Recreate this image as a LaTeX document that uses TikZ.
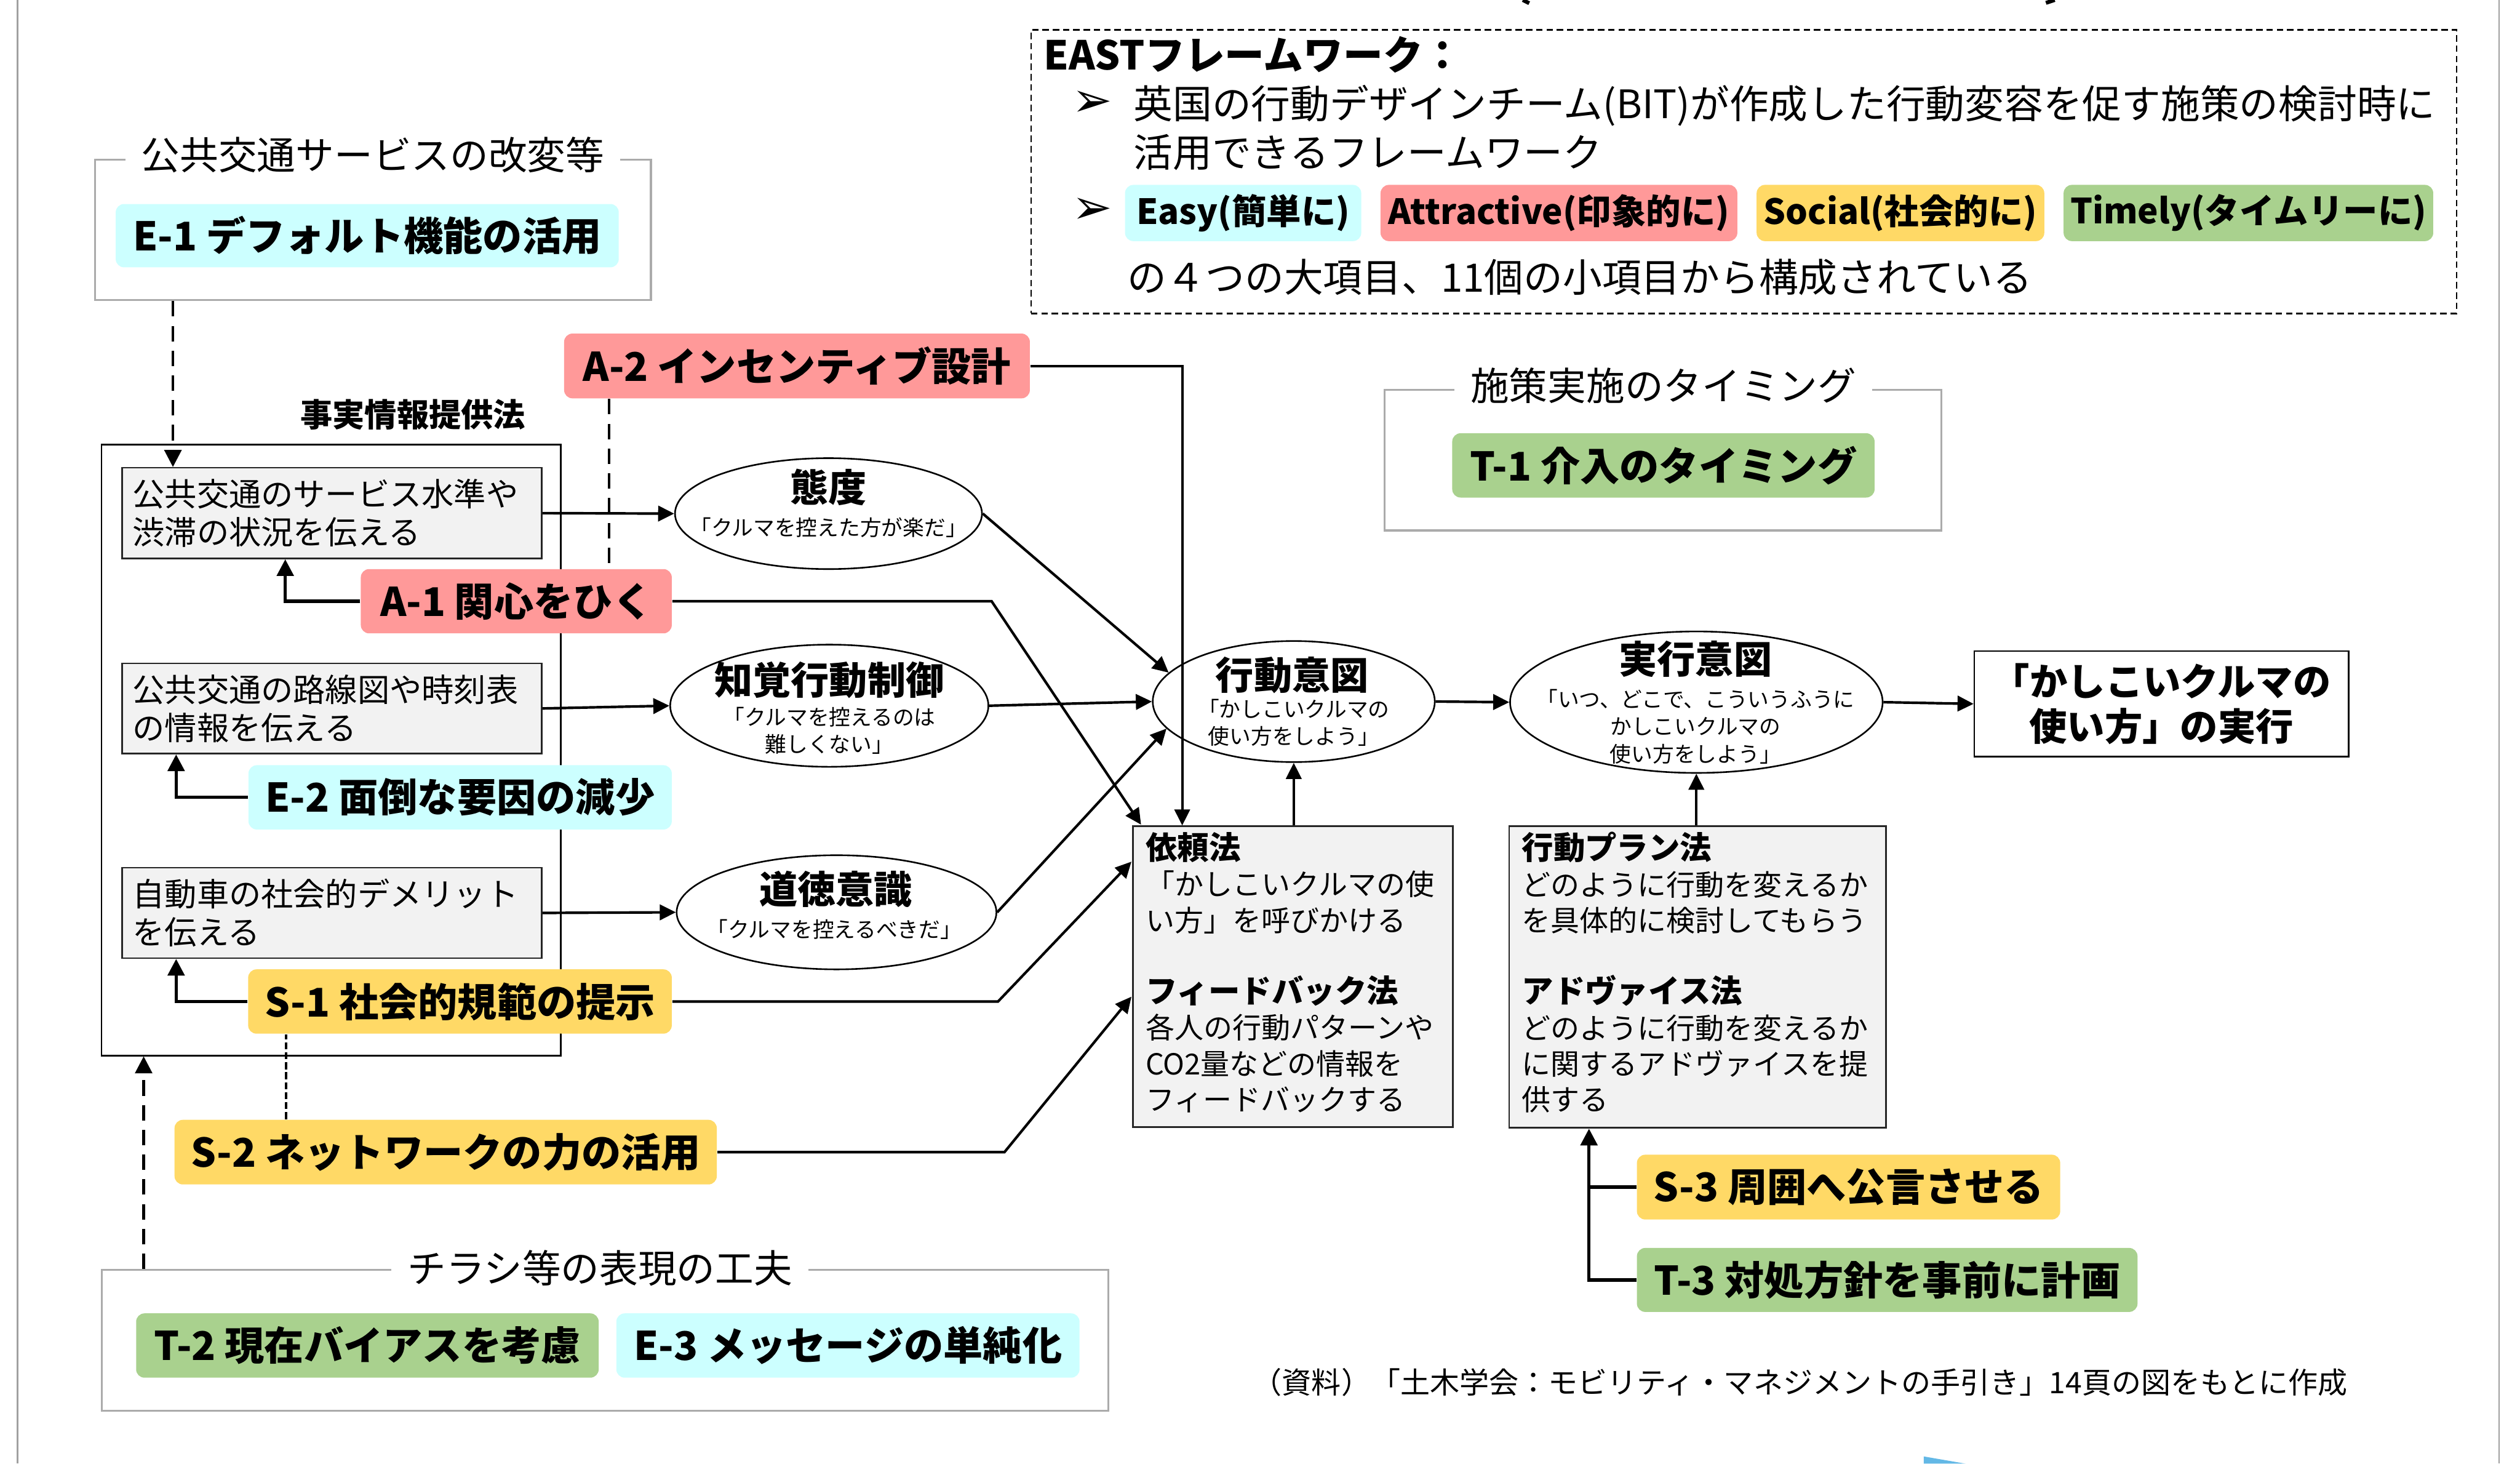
\documentclass[tikz,border=0pt]{standalone}
\usepackage{fontspec}
\setmainfont{Noto Sans CJK JP}
\newfontfamily\dejavu{DejaVu Sans}
\usetikzlibrary{arrows.meta,shapes.geometric}
\newcommand{\myfs}[2]{\fontsize{#1}{#2}\selectfont}
\definecolor{cyanF}{HTML}{CCFFFF}
\definecolor{pinkF}{HTML}{FF9999}
\definecolor{yelF}{HTML}{FFD966}
\definecolor{grnF}{HTML}{A9D18E}
\definecolor{boxF}{HTML}{F2F2F2}
\definecolor{grpL}{HTML}{ABABAB}
\definecolor{pageL}{HTML}{A0A0A0}
\definecolor{fragB}{HTML}{63B8E6}
\tikzset{
  px/.style 2 args={minimum width={#1*0.5pt}, minimum height={#2*0.5pt}},
  tag/.style={rectangle, rounded corners=2.6pt, inner sep=0pt, font={\myfs{12.3pt}{14pt}\bfseries}},
  grp/.style={draw=grpL, line width=0.6pt, inner sep=0pt},
  gtitle/.style={fill=white, inner xsep=5pt, inner ysep=0pt, font={\myfs{12pt}{14pt}}},
  info/.style={draw=black!85, fill=boxF, line width=0.5pt, inner sep=0pt},
  oval/.style={ellipse, draw, line width=0.5pt, inner sep=0pt, fill=white},
  plain/.style={inner sep=0pt},
  arr/.style={-{Triangle[length=5pt,width=4.8pt]}, line width=0.8pt},
  elb/.style={-{Triangle[length=5.2pt,width=5.2pt]}, line width=1pt},
  dsh/.style={dash pattern=on 4.8pt off 2.9pt, line width=0.8pt},
  thindsh/.style={dash pattern=on 2.2pt off 0.9pt, line width=0.6pt},
  bullet/.style={inner sep=0pt, font={\dejavu\myfs{15pt}{16pt}}},
}
\begin{document}
\begin{tikzpicture}[x=0.5pt,y=-0.5pt]
\useasboundingbox (0,0) rectangle (1568,910.5);
% page border lines and fragments
\draw[pageL, line width=0.5pt] (11,0) -- (11,910.5);
\draw[pageL, line width=0.5pt] (1555,0) -- (1555,910.5);
\draw[line width=1.2pt] (947.5,0) -- (951.5,2);
\draw[line width=1.2pt] (1273,1.8) -- (1278.5,0);
\fill[fragB] (1197,906) -- (1223,910.5) -- (1197,910.5) -- cycle;

% EAST framework box
\node[draw, dash pattern=on 2pt off 1.2pt, line width=0.5pt, inner sep=0pt, px={886.9}{176.4}] (east) at (1085.05,106.8) {};
\node[plain, anchor=west, font={\myfs{12.4pt}{14pt}\bfseries}] (eastT) at (649,34) {EASTフレームワーク：};
\node[bullet] (bul1) at (679.5,64.5) {➢};
\node[plain, anchor=west, align=left, font={\myfs{12.2pt}{15pt}}] (eastL1) at (705,79.5) {英国の行動デザインチーム(BIT)が作成した行動変容を促す施策の検討時に\\活用できるフレームワーク};
\node[bullet] (bul2) at (679.5,131) {➢};
\node[tag, fill=cyanF, px={147}{35}, font={\myfs{10.8pt}{12pt}\bfseries}] (easy) at (773.5,132.5) {Easy(簡単に)};
\node[tag, fill=pinkF, px={222}{35}, font={\myfs{10.8pt}{12pt}\bfseries}] (attr) at (970,132.5) {Attractive(印象的に)};
\node[tag, fill=yelF, px={179}{35}, font={\myfs{10.8pt}{12pt}\bfseries}] (soc) at (1182.5,132.5) {Social(社会的に)};
\node[tag, fill=grnF, px={230}{35}, font={\myfs{10.8pt}{12pt}\bfseries}] (tim) at (1399,132.5) {Timely(タイムリーに)};
\node[plain, anchor=west, font={\myfs{12.2pt}{14pt}}] (eastL3) at (701,172.4) {の４つの大項目、11個の小項目から構成されている};

% group: public transport
\node[grp, px={346}{87.4}] (grpE1) at (232,143) {};
\node[gtitle] (grpE1t) at (232,96.5) {公共交通サービスの改変等};
\node[tag, fill=cyanF, px={313}{39.4}] (E1) at (228.5,146.6) {E-1 デフォルト機能の活用};

% fact information
\node[plain, font={\myfs{10pt}{12pt}\bfseries}] (jijitsu) at (257,258) {事実情報提供法};
\node[draw, line width=0.5pt, inner sep=0pt, px={285.8}{380.1}] (bigbox) at (206.1,466.55) {};
\node[info, px={261}{56.4}, text width=124pt, align=left, font={\myfs{10pt}{11.85pt}}] (box1) at (206.5,319.2) {公共交通のサービス水準や\\渋滞の状況を伝える};
\node[info, px={261}{56.2}, text width=124pt, align=left, font={\myfs{10pt}{11.85pt}}] (box2) at (206.5,440.7) {公共交通の路線図や時刻表\\の情報を伝える};
\node[info, px={261}{56.2}, text width=124pt, align=left, font={\myfs{10pt}{11.85pt}}] (box3) at (206.5,567.9) {自動車の社会的デメリット\\を伝える};

% measure tags
\node[tag, fill=pinkF, px={289.8}{40.3}] (A2) at (495.9,227.65) {A-2 インセンティブ設計};
\node[tag, fill=pinkF, px={193.5}{40}] (A1) at (321.25,374) {A-1 関心をひく};
\node[tag, fill=cyanF, px={263.4}{40}] (E2) at (286.3,496) {E-2 面倒な要因の減少};
\node[tag, fill=yelF, px={263.6}{40}] (S1) at (286.2,623) {S-1 社会的規範の提示};
\node[tag, fill=yelF, px={337.4}{40.2}] (S2) at (277.3,716.7) {S-2 ネットワークの力の活用};

% ellipses
\node[oval, px={191}{69}] (tai) at (515.5,319.5) {};
\node[plain, font={\myfs{11.9pt}{13pt}\bfseries}] (taiH) at (515.5,303) {態度};
\node[plain, font={\myfs{6.65pt}{8.5pt}}] (taiS) at (515.5,328) {「クルマを控えた方が楽だ」};
\node[oval, px={198}{76}] (chi) at (516,439) {};
\node[plain, font={\myfs{11.9pt}{13pt}\bfseries}] (chiH) at (516,423) {知覚行動制御};
\node[plain, align=center, font={\myfs{6.65pt}{8.5pt}}] (chiS) at (516,454.5) {「クルマを控えるのは\\難しくない」};
\node[oval, px={199}{71}] (dou) at (520.5,567.5) {};
\node[plain, font={\myfs{11.9pt}{13pt}\bfseries}] (douH) at (520,553) {道徳意識};
\node[plain, font={\myfs{6.65pt}{8.5pt}}] (douS) at (519,578) {「クルマを控えるべきだ」};
\node[oval, px={175.5}{75.3}] (ko) at (805,436.4) {};
\node[plain, font={\myfs{11.9pt}{13pt}\bfseries}] (koH) at (804,420) {行動意図};
\node[plain, align=center, font={\myfs{6.65pt}{8.5pt}}] (koS) at (805,449.5) {「かしこいクルマの\\使い方をしよう」};
\node[oval, px={231.8}{88}] (jitsu) at (1055.5,436.8) {};
\node[plain, font={\myfs{11.9pt}{13pt}\bfseries}] (jitsuH) at (1055,410) {実行意図};
\node[plain, align=center, font={\myfs{6.65pt}{8.5pt}}] (jitsuS) at (1055,452) {「いつ、どこで、こういうふうに\\かしこいクルマの\\使い方をしよう」};

% method boxes
\node[info, px={199}{187}] (irai) at (804.5,607.5) {};
\node[plain, anchor=west, align=left, font={\myfs{9pt}{11.15pt}}] (iraiT) at (712.5,605) {{\bfseries\myfs{9.85pt}{11.15pt}依頼法}\\「かしこいクルマの使\\い方」を呼びかける\\[11.15pt]{\bfseries\myfs{9.85pt}{11.15pt}フィードバック法}\\各人の行動パターンや\\CO2量などの情報を\\フィードバックする};
\node[info, px={234.4}{187.6}] (plan) at (1056.2,607.8) {};
\node[plain, anchor=west, align=left, font={\myfs{9pt}{11.15pt}}] (planT) at (946.5,605) {{\bfseries\myfs{9.85pt}{11.15pt}行動プラン法}\\どのように行動を変えるか\\を具体的に検討してもらう\\[11.15pt]{\bfseries\myfs{9.85pt}{11.15pt}アドヴァイス法}\\どのように行動を変えるか\\に関するアドヴァイスを提\\供する};

% final box
\node[draw, line width=0.5pt, inner sep=0pt, px={232.8}{65.7}, align=center, font={\myfs{11.75pt}{14pt}\bfseries}] (final) at (1344.9,437.85) {「かしこいクルマの\\使い方」の実行};

% timing group
\node[grp, px={346.3}{87.6}] (grpT1) at (1034.65,286.2) {};
\node[gtitle] (grpT1t) at (1035,240) {施策実施のタイミング};
\node[tag, fill=grnF, px={262.8}{40}] (T1) at (1035,289.5) {T-1 介入のタイミング};

% flyer group
\node[grp, px={626}{87.7}] (grpT2) at (376.5,833.85) {};
\node[gtitle] (grpT2t) at (373.3,789) {チラシ等の表現の工夫};
\node[tag, fill=grnF, px={287.8}{40}] (T2) at (228.6,837) {T-2 現在バイアスを考慮};
\node[tag, fill=cyanF, px={288.2}{40}] (E3) at (527.6,837) {E-3 メッセージの単純化};

% S-3 / T-3
\node[tag, fill=yelF, px={263.4}{40.3}] (S3) at (1150.2,738.45) {S-3 周囲へ公言させる};
\node[tag, fill=grnF, px={311.5}{39.8}] (T3) at (1174.25,796.2) {T-3 対処方針を事前に計画};

% source
\node[plain, font={\myfs{9.2pt}{11pt}}] (src) at (1120,860) {（資料）「土木学会：モビリティ・マネジメントの手引き」14頁の図をもとに作成};

% connectors
\coordinate (xE1) at (107.6,0);
\draw[dsh, -{Triangle[length=5.3pt,width=5.3pt]}] (grpE1.south -| xE1) -- (box1.north -| xE1);
\coordinate (xA2) at (735.6,0);
\draw[arr] (A2.east) -| (xA2 |- irai.north);
\coordinate (xA2d) at (379,0);
\draw[dsh] (A2.south -| xA2d) -- (A1.north -| xA2d);
\coordinate (xA1) at (177.5,0);
\draw[elb] (A1.west) -| (xA1 |- box1.south);
\coordinate (a1k) at (617,374);
\coordinate (a1t) at (710,513);
\draw[arr] (A1.east) -- (a1k) -- (a1t);
\draw[arr] (box1.east) -- (tai.west);
\draw[arr] (box2.east) -- (chi.west);
\draw[arr] (box3.east) -- (dou.west);
\draw[arr] (tai.east) -- (ko.167);
\draw[arr] (chi.east) -- (ko.west);
\draw[arr] (dou.east) -- (ko.192);
\coordinate (s1k) at (621,623);
\coordinate (s1t) at (704,536);
\draw[arr] (S1.east) -- (s1k) -- (s1t);
\coordinate (s2k) at (625,716.7);
\coordinate (s2t) at (704,620);
\draw[arr] (S2.east) -- (s2k) -- (s2t);
\coordinate (xE2) at (109.6,0);
\draw[elb] (E2.west) -| (xE2 |- box2.south);
\draw[elb] (S1.west) -| (xE2 |- box3.south);
\coordinate (xS2) at (178,0);
\draw[thindsh] (S2.north -| xS2) -- (S1.south -| xS2);
\coordinate (xT2) at (89.4,0);
\draw[dsh, -{Triangle[length=5.3pt,width=5.3pt]}] (grpT2.north -| xT2) -- (bigbox.south -| xT2);
\draw[arr] (irai.north -| ko.south) -- (ko.south);
\draw[arr] (plan.north -| jitsu.south) -- (jitsu.south);
\draw[arr] (ko.east) -- (jitsu.west);
\draw[arr] (jitsu.east) -- (final.west);
\coordinate (xS3) at (988.7,0);
\draw[elb] (T3.west) -| (xS3 |- plan.south);
\draw[line width=1pt] (S3.west) -- (S3.west -| xS3);
\end{tikzpicture}
\end{document}
